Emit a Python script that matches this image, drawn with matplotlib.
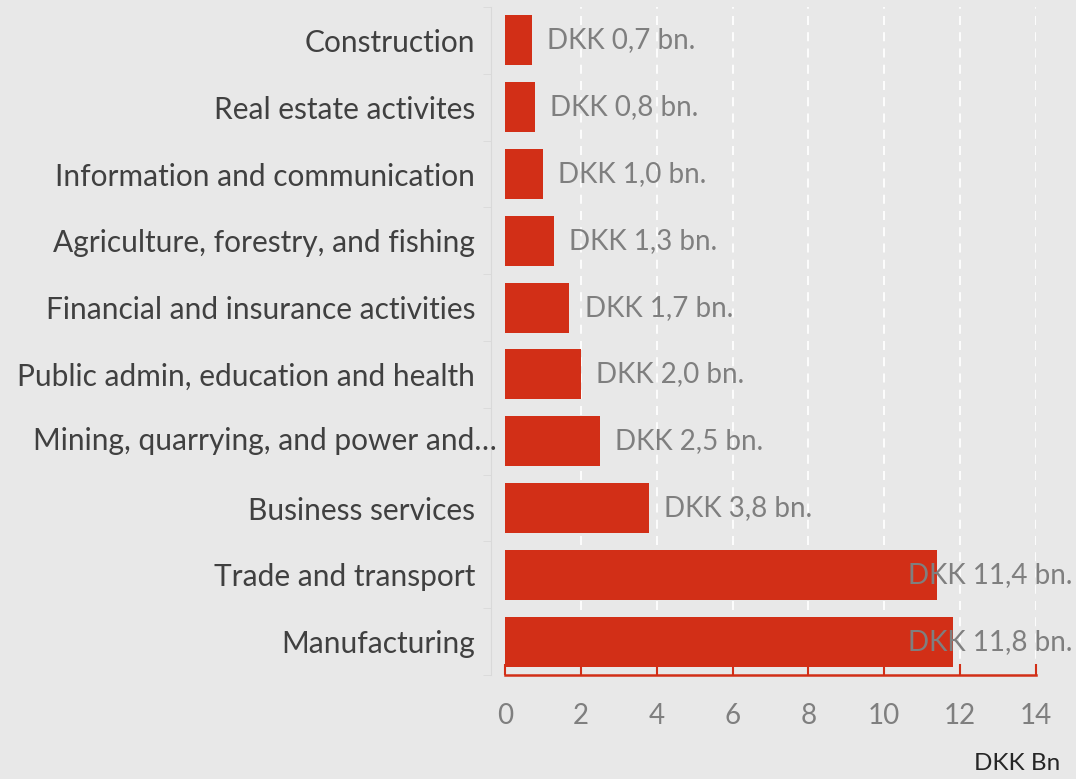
import matplotlib.pyplot as plt
from matplotlib.ticker import FixedLocator

# sectors listed bottom to top
sectors = [
    "Manufacturing",
    "Trade and transport",
    "Business services",
    "Mining, quarrying, and power and\u2026",
    "Public admin, education and health",
    "Financial and insurance activities",
    "Agriculture, forestry, and fishing",
    "Information and communication",
    "Real estate activites",
    "Construction",
]
values = [11.8, 11.4, 3.8, 2.5, 2.0, 1.7, 1.3, 1.0, 0.8, 0.7]
value_labels = ["DKK 11,8 bn.", "DKK 11,4 bn.", "DKK 3,8 bn.", "DKK 2,5 bn.",
                "DKK 2,0 bn.", "DKK 1,7 bn.", "DKK 1,3 bn.", "DKK 1,0 bn.",
                "DKK 0,8 bn.", "DKK 0,7 bn."]
x_ticks = [0, 2, 4, 6, 8, 10, 12, 14]

plt.rcParams['font.family'] = ['Lato', 'DejaVu Sans']

bg = '#e8e8e8'
red = '#d22f17'
fig = plt.figure(figsize=(10.76, 7.79), dpi=100, facecolor=bg)
ax = fig.add_axes([0.4693, 0.1335, 0.4935, 0.8575], facecolor=bg)

y = list(range(len(sectors)))
ax.barh(y, values, height=0.75, color=red, zorder=3)

ax.set_xlim(0, 14)
ax.set_ylim(-0.5, len(sectors) - 0.5)

# dashed white gridlines
for t in x_ticks[1:]:
    ax.axvline(t, color='white', lw=1.3, ls=(0, (5, 4)), zorder=1)

ax.xaxis.set_major_locator(FixedLocator(x_ticks))
ax.tick_params(axis='x', direction='in', length=8, width=1.5, colors=red,
               labelcolor='#7f7f7f', labelsize=20, pad=20)
ax.spines['bottom'].set_color(red)
ax.spines['bottom'].set_linewidth(1.8)
ax.spines['top'].set_visible(False)
ax.spines['right'].set_visible(False)
ax.spines['left'].set_color('#d9d9d9')
ax.spines['left'].set_position(('outward', 10))

# the truncated label sits closer to the axis, as in the original
long_idx = 3
ax.set_yticks(y)
ax.set_yticklabels(['' if i == long_idx else s for i, s in enumerate(sectors)],
                   fontsize=21.5, color='#404040')
ax.annotate(sectors[long_idx], xy=(0, long_idx), xycoords=('axes fraction', 'data'),
            xytext=(-6, 0), textcoords='offset points', ha='right', va='center',
            fontsize=21.5, color='#404040', annotation_clip=False)
ax.yaxis.set_minor_locator(FixedLocator([i - 0.5 for i in range(len(sectors) + 1)]))
ax.tick_params(axis='y', which='major', length=0, pad=11.5)
ax.tick_params(axis='y', which='minor', length=6, color='#d9d9d9')

for yi, v, lab in zip(y, values, value_labels):
    if v + 0.4 > 10.5:
        ax.text(14.95, yi, lab, ha='right', va='center', fontsize=20,
                color='#7f7f7f', zorder=4, clip_on=False)
    else:
        ax.text(v + 0.4, yi, lab, ha='left', va='center', fontsize=20,
                color='#7f7f7f', zorder=4)

fig.text(0.985, 0.006, "DKK Bn", ha='right', va='bottom', fontsize=17.5,
         color='#262626')

fig.savefig('out.png', dpi=100, facecolor=bg)
